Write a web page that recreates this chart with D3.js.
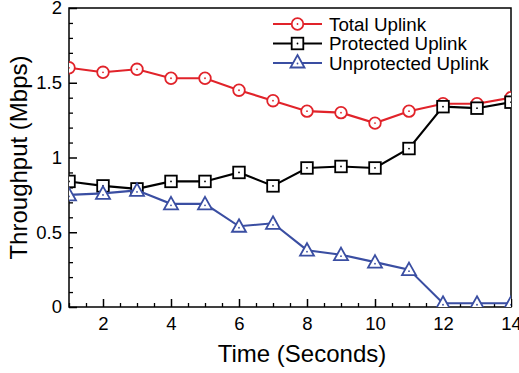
<!DOCTYPE html>
<html>
<head>
<meta charset="utf-8">
<script src="https://cdn.jsdelivr.net/npm/d3@7"></script>
<style>
  html, body { margin: 0; padding: 0; background: #fff; }
  svg { display: block; font-family: "Liberation Sans", Arial, Helvetica, sans-serif; }
</style>
</head>
<body>
<svg id="chart" width="519" height="373"></svg>
<script>
const time = [1,2,3,4,5,6,7,8,9,10,11,12,13,14];
const totalUplink = [1.60,1.57,1.59,1.53,1.53,1.45,1.38,1.31,1.30,1.23,1.31,1.36,1.36,1.40];
const protectedUplink = [0.84,0.81,0.79,0.84,0.84,0.90,0.81,0.93,0.94,0.93,1.06,1.34,1.33,1.37];
const unprotectedUplink = [0.75,0.76,0.78,0.69,0.69,0.54,0.56,0.38,0.35,0.30,0.25,0.025,0.025,0.025];
const seriesNames = ["Total Uplink","Protected Uplink","Unprotected Uplink"];
const xTicks = [2,4,6,8,10,12,14];
const yTicks = [0,0.5,1,1.5,2];

const colors = ["#e1232a","#000000","#3a4ea2"];
const shapes = ["circle","square","triangle"];
const seriesData = [totalUplink, protectedUplink, unprotectedUplink];

const svg = d3.select("#chart");
const m = {left: 69, right: 8, top: 8, bottom: 66};
const W = 519, H = 373;
const x = d3.scaleLinear().domain([1,14]).range([m.left, W - m.right]);
const y = d3.scaleLinear().domain([0,2]).range([H - m.bottom, m.top]);

// frame
svg.append("rect")
  .attr("x", x(1)).attr("y", y(2))
  .attr("width", x(14) - x(1)).attr("height", y(0) - y(2))
  .attr("fill", "none").attr("stroke", "#000").attr("stroke-width", 1.5);

// minor ticks
const xMinor = d3.range(1, 14.01, 0.5).filter(v => !xTicks.includes(v));
const yMinor = d3.range(0, 2.001, 0.1).map(v => +v.toFixed(2)).filter(v => !yTicks.includes(v));
svg.append("g").attr("transform", `translate(0,${y(0)})`)
  .call(d3.axisBottom(x).tickValues(xMinor).tickSizeInner(-4).tickSizeOuter(0).tickFormat(""))
  .call(g => g.select(".domain").remove())
  .selectAll("line").attr("stroke-width", 1.3);
svg.append("g").attr("transform", `translate(${x(1)},0)`)
  .call(d3.axisLeft(y).tickValues(yMinor).tickSizeInner(-4).tickSizeOuter(0).tickFormat(""))
  .call(g => g.select(".domain").remove())
  .selectAll("line").attr("stroke-width", 1.3);

// major axes
const xAxis = svg.append("g").attr("transform", `translate(0,${y(0)})`)
  .call(d3.axisBottom(x).tickValues(xTicks).tickSizeInner(-8).tickSizeOuter(0).tickPadding(10).tickFormat(d3.format("d")));
xAxis.select(".domain").remove();
xAxis.selectAll("line").attr("stroke-width", 1.5);
xAxis.selectAll("text").attr("font-size", 18.5).attr("fill", "#000").attr("font-family", "Liberation Sans, Arial, sans-serif");

const yAxis = svg.append("g").attr("transform", `translate(${x(1)},0)`)
  .call(d3.axisLeft(y).tickValues(yTicks).tickSizeInner(-8).tickSizeOuter(0).tickPadding(7).tickFormat(d => d));
yAxis.select(".domain").remove();
yAxis.selectAll("line").attr("stroke-width", 1.5);
yAxis.selectAll("text").attr("font-size", 18.5).attr("fill", "#000").attr("font-family", "Liberation Sans, Arial, sans-serif");

// axis titles
svg.append("text")
  .attr("x", (x(1) + x(14)) / 2 + 12).attr("y", 362)
  .attr("text-anchor", "middle").attr("font-size", 24).text("Time (Seconds)");
svg.append("text")
  .attr("transform", `translate(27,${(y(0)+y(2))/2}) rotate(-90)`)
  .attr("text-anchor", "middle").attr("font-size", 24).text("Throughput (Mbps)");

function drawMarker(g, shape, color, cx, cy) {
  if (shape === "circle") {
    g.append("circle").attr("cx", cx).attr("cy", cy).attr("r", 5.8)
      .attr("fill", "#fff").attr("stroke", color).attr("stroke-width", 1.8);
  } else if (shape === "square") {
    g.append("rect").attr("x", cx - 5.8).attr("y", cy - 5.8).attr("width", 11.6).attr("height", 11.6)
      .attr("fill", "#fff").attr("stroke", color).attr("stroke-width", 1.8);
  } else {
    const s = 7;
    g.append("path")
      .attr("d", `M${cx},${cy - s} L${cx + s},${cy + 5.5} L${cx - s},${cy + 5.5} Z`)
      .attr("fill", "#fff").attr("stroke", color).attr("stroke-width", 1.8);
  }
  g.append("circle").attr("cx", cx).attr("cy", cy + (shape === "triangle" ? 1.5 : 0)).attr("r", 0.9).attr("fill", color);
}

svg.append("defs").append("clipPath").attr("id", "plotclip")
  .append("rect").attr("x", x(1)).attr("y", y(2)).attr("width", x(14) - x(1)).attr("height", y(0) - y(2));

const line = d3.line().x((d, i) => x(time[i])).y(d => y(d));
seriesData.forEach((vals, si) => {
  const g = svg.append("g").attr("clip-path", "url(#plotclip)");
  g.append("path").datum(vals).attr("d", line)
    .attr("fill", "none").attr("stroke", colors[si]).attr("stroke-width", 2.1);
  vals.forEach((v, i) => drawMarker(g, shapes[si], colors[si], x(time[i]), y(v)));
});

// legend
const legRows = [24, 43.5, 63];
seriesNames.forEach((name, i) => {
  const g = svg.append("g");
  g.append("line").attr("x1", 273).attr("x2", 322).attr("y1", legRows[i]).attr("y2", legRows[i])
    .attr("stroke", colors[i]).attr("stroke-width", 2);
  drawMarker(g, shapes[i], colors[i], 297.5, legRows[i] + (shapes[i] === "triangle" ? -1 : 0));
  g.append("text").attr("x", 329).attr("y", legRows[i] + 6.8).attr("font-size", 18.8).text(name);
});
</script>
</body>
</html>
